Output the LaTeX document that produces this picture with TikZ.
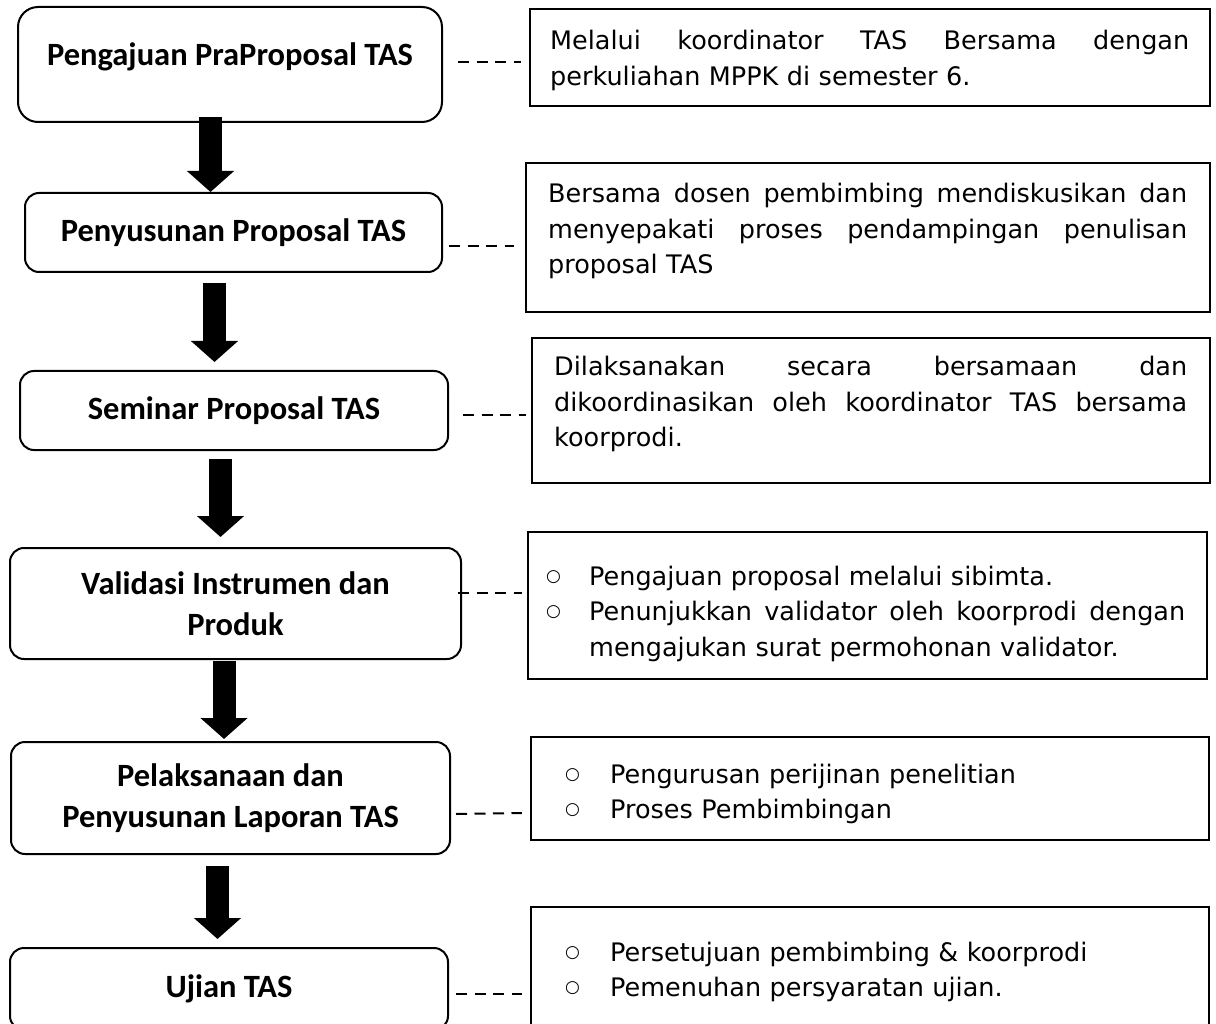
\documentclass[tikz,border=0pt]{standalone}
\usepackage{fontspec}
\setmainfont{DejaVu Sans}
\newfontfamily\boxfont{Carlito}
\usetikzlibrary{arrows.meta,calc}
\newcommand{\bul}[1]{\makebox[#1][l]{\hspace*{-3pt}\fontsize{17}{17}\selectfont\raisebox{4pt}{○}}}
\newcommand{\jl}[2][\linewidth]{\makebox[#1][s]{\spaceskip=0pt\xspaceskip=0pt #2}}
\begin{document}
\begin{tikzpicture}[x=1pt,y=-1pt,
  flowbox/.style={draw, line width=2pt, rounded corners=14pt, inner sep=0pt,
    align=center, font=\boxfont\bfseries\fontsize{32.5}{41}\selectfont},
  notebox/.style={draw, line width=2.4pt, inner sep=0pt},
  notetext/.style={inner sep=0pt, anchor=base west,
    font=\fontsize{25.5}{35.5}\selectfont},
  bigarrow/.style={line width=23pt, -{Triangle[width=46pt,length=21pt]}},
  dashlink/.style={line width=2pt, dash pattern=on 11pt off 7.5pt}]
\useasboundingbox (0,0) rectangle (1216,1024);
\fill[white] (0,0) rectangle (1216,1024);

% left column
\node[flowbox, rounded corners=20pt, minimum width=424pt, minimum height=115pt, text depth=20pt] (b1) at (230,64.5) {Pengajuan PraProposal TAS};
\node[flowbox, minimum width=417pt, minimum height=79pt] (b2) at (233.5,232.5) {Penyusunan Proposal TAS};
\node[flowbox, minimum width=428pt, minimum height=79pt] (b3) at (234,410.5) {Seminar Proposal TAS};
\node[flowbox, minimum width=451pt, minimum height=111pt] (b4) at (235.5,603.5) {Validasi Instrumen dan\\Produk};
\node[flowbox, minimum width=439pt, minimum height=112pt] (b5) at (230.5,798) {Pelaksanaan dan\\Penyusunan Laporan TAS};
\node[flowbox, minimum width=438pt, minimum height=82pt] (b6) at (229,989) {Ujian TAS};

% arrows
\draw[bigarrow] ([xshift=-19.5pt,yshift=6pt]b1.south) -- ([xshift=-23pt]b2.north);
\draw[bigarrow] ([xshift=-19pt,yshift=-10pt]b2.south) -- ([xshift=-19.5pt,yshift=8pt]b3.north);
\draw[bigarrow] ([xshift=-13.5pt,yshift=-8pt]b3.south) -- ([xshift=-15pt,yshift=10pt]b4.north);
\draw[bigarrow] ([xshift=-11.5pt,yshift=-1pt]b4.south) -- ([xshift=-6.5pt,yshift=2pt]b5.north);
\draw[bigarrow] ([xshift=-13pt,yshift=-11pt]b5.south) -- ([xshift=-11.5pt,yshift=8pt]b6.north);

% right column boxes
\node[notebox, minimum width=680pt, minimum height=97pt] (r1) at (870,57.5) {};
\node[notebox, minimum width=684pt, minimum height=149pt] (r2) at (868,237.5) {};
\node[notebox, minimum width=678pt, minimum height=145pt] (r3) at (871,410.5) {};
\node[notebox, minimum width=679pt, minimum height=147pt] (r4) at (867.5,605.5) {};
\node[notebox, minimum width=678pt, minimum height=103pt] (r5) at (870,788.5) {};
\node[notebox, minimum width=678pt, minimum height=123pt] (r6) at (870,968.5) {};

% right column texts
\node[notetext, text width=639pt] (t1) at (550,50) {\jl{Melalui koordinator TAS Bersama dengan}\\perkuliahan MPPK di semester 6.};
\node[notetext, text width=639pt] (t2) at (548,203) {\jl{Bersama dosen pembimbing mendiskusikan dan}\\\jl{menyepakati proses pendampingan penulisan}\\proposal TAS};
\node[notetext, text width=633pt] (t3) at (554,376) {\jl{Dilaksanakan secara bersamaan dan}\\\jl{dikoordinasikan oleh koordinator TAS bersama}\\koorprodi.};
\node[notetext, text width=640pt] (t4) at (549,585) {\bul{40pt}Pengajuan proposal melalui sibimta.\\\bul{40pt}\jl[596pt]{Penunjukkan validator oleh koorprodi dengan}\\\hspace*{40pt}mengajukan surat permohonan validator.};
\node[notetext, text width=620pt] (t5) at (568,783) {\bul{42pt}Pengurusan perijinan penelitian\\\bul{42pt}Proses Pembimbingan};
\node[notetext, text width=620pt] (t6) at (568,961) {\bul{42pt}Persetujuan pembimbing \& koorprodi\\\bul{42pt}Pemenuhan persyaratan ujian.};

% dashed links
\draw[dashlink] ([xshift=15pt,yshift=2.5pt]b1.east) -- ([xshift=-8pt,yshift=-4.5pt]r1.west);
\draw[dashlink] ([xshift=6pt,yshift=-13.5pt]b2.east) -- ([xshift=-11pt,yshift=-8.5pt]r2.west);
\draw[dashlink] ([xshift=14pt,yshift=-4.5pt]b3.east) -- ([xshift=-5pt,yshift=-4.5pt]r3.west);
\draw[dashlink] ([xshift=-4pt,yshift=10.5pt]b4.east) -- ([xshift=-5pt,yshift=12.5pt]r4.west);
\draw[dashlink] ([xshift=5pt,yshift=-16pt]b5.east) -- ([xshift=-8pt,yshift=-24.5pt]r5.west);
\draw[dashlink] ([xshift=7pt,yshift=-5pt]b6.east) -- ([xshift=-8pt,yshift=-25.5pt]r6.west);
\end{tikzpicture}
\end{document}
